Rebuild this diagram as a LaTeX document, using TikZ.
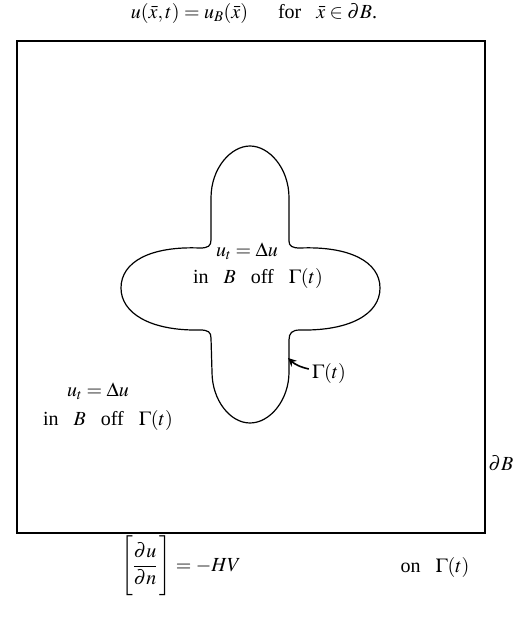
\documentclass[tikz,border=0pt]{standalone}
\usepackage{mathptmx}
\usepackage{fontspec}
\setmainfont{Liberation Serif}
\usetikzlibrary{arrows.meta}
\newcommand{\gap}{\hspace{0.75em}}
\begin{document}
\begin{tikzpicture}[x=1pt,y=-1pt,
  lbl/.style={inner sep=0pt,font=\fontsize{20}{24}\selectfont},
  outline/.style={line width=1.2pt},
  curve/.style={line width=1.2pt}]
\useasboundingbox (0,0) rectangle (522,617);
% outer boundary
\draw[outline] (17,41) rectangle (485,533);
% interface Gamma(t)
\draw[curve] (211,240) -- (211,198)
  .. controls (211,168) and (231,146) .. (250,146)
  .. controls (269,146) and (289,168) .. (289,198)
  -- (289,241)
  .. controls (289,246) and (292,248) .. (300,248)
  .. controls (350,246) and (380,262) .. (380,288)
  .. controls (380,314) and (350,331) .. (300,330)
  .. controls (292,330) and (289,333) .. (289,340)
  -- (289,372)
  .. controls (289,400) and (270,423) .. (250,423)
  .. controls (230,423) and (212,400) .. (212,372)
  -- (211,338)
  .. controls (211,332) and (208,330) .. (200,330)
  .. controls (150,331) and (121,313) .. (121,288)
  .. controls (121,262) and (150,246) .. (200,248)
  .. controls (208,248) and (211,246) .. cycle;
% labels
\node[lbl] (top) at (254,14) {$u(\bar{x},t)=u_B(\bar{x})$\hspace{1.5em}for\gap$\bar{x}\in\partial B$.};
\node[lbl] (ineq1) at (247,251) {$u_t=\Delta u$};
\node[lbl] (inoff1) at (258,278) {in\gap$B$\gap off\gap$\Gamma(t)$};
\node[lbl] (outeq) at (98,391) {$u_t=\Delta u$};
\node[lbl] (outoff) at (108,420) {in\gap$B$\gap off\gap$\Gamma(t)$};
\node[lbl] (gam) at (329,373) {$\Gamma(t)$};
\node[lbl] (dB) at (501,463) {$\partial B$};
\node[lbl] (jump) at (181,567) {$\left[\rule[-27pt]{0pt}{58pt}{\displaystyle\frac{\partial u}{\partial n}}\,\right]=-HV$};
\node[lbl] (on) at (435,567) {on\gap$\Gamma(t)$};
\coordinate (tipc) at (288,358);
\draw[line width=1.6pt,-{Stealth[length=8.5pt,width=8pt]}] (gam.west) ++(-3,-4) to[bend left=15] (tipc);
\end{tikzpicture}
\end{document}
